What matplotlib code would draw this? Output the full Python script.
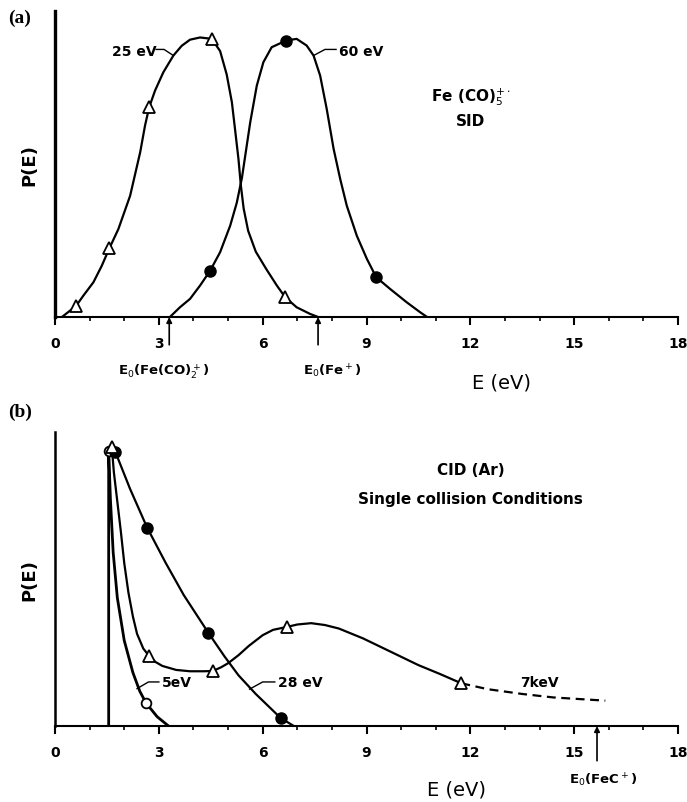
import matplotlib
matplotlib.use("Agg")
import matplotlib.pyplot as plt
import numpy as np

plt.rcParams["font.family"] = ["DejaVu Sans"]

# ---- (a) SID of Fe(CO)5+. : curves ----
sid25_curve_e = [0.2, 0.61, 0.82, 1.11, 1.35, 1.57, 1.83, 2.17, 2.46, 2.60, 2.72, 2.89, 3.13,
                 3.42, 3.66, 3.90, 4.19, 4.53, 4.77, 4.96, 5.11, 5.20, 5.30, 5.37, 5.45,
                 5.58, 5.80, 6.10, 6.41, 6.65, 6.98, 7.37, 7.6]
sid25_curve_p = [0.0, 0.04, 0.077, 0.125, 0.184, 0.247, 0.316, 0.436, 0.592, 0.688, 0.754,
                 0.814, 0.88, 0.94, 0.975, 0.997, 1.005, 1.0, 0.956, 0.872, 0.772, 0.676,
                 0.568, 0.472, 0.39, 0.31, 0.235, 0.173, 0.113, 0.071, 0.035, 0.011, 0.0]
sid25_pts_e = [0.61, 1.57, 2.72, 4.53, 6.65]
sid25_pts_p = [0.04, 0.247, 0.754, 1.0, 0.071]

sid60_curve_e = [3.32, 3.61, 3.90, 4.19, 4.48, 4.77, 5.06, 5.25, 5.40, 5.52, 5.64, 5.83,
                 6.02, 6.26, 6.68, 6.98, 7.27, 7.47, 7.66, 7.85, 8.05, 8.24, 8.43, 8.72,
                 9.01, 9.28, 9.68, 10.16, 10.55, 10.75]
sid60_curve_p = [0.0, 0.035, 0.065, 0.113, 0.166, 0.233, 0.328, 0.41, 0.50, 0.60, 0.70,
                 0.832, 0.916, 0.97, 0.994, 1.0, 0.976, 0.94, 0.868, 0.748, 0.604, 0.496,
                 0.40, 0.292, 0.209, 0.143, 0.101, 0.053, 0.017, 0.0]
sid60_pts_e = [4.48, 6.68, 9.28]
sid60_pts_p = [0.166, 0.994, 0.143]

sid_thresholds = [3.3, 7.6]
sid_threshold_labels = [r"E$_0$(Fe(CO)$_2^+$)", r"E$_0$(Fe$^+$)"]

# ---- (b) CID (Ar), single collision ----
cid5_curve_e = [1.55, 1.55, 1.60, 1.68, 1.80, 2.00, 2.25, 2.45, 2.63, 2.95, 3.28]
cid5_curve_p = [0.0, 1.03, 0.85, 0.65, 0.48, 0.32, 0.20, 0.13, 0.086, 0.035, 0.0]
cid5_pts_e = [1.55, 2.63]
cid5_pts_p = [1.03, 0.086]

cid28_curve_e = [1.74, 2.17, 2.66, 3.2, 3.72, 4.44, 4.9, 5.3, 5.8, 6.2, 6.52, 6.9]
cid28_curve_p = [1.027, 0.887, 0.743, 0.61, 0.49, 0.347, 0.26, 0.19, 0.12, 0.07, 0.03, 0.0]
cid28_pts_e = [1.74, 2.66, 4.42, 6.52]
cid28_pts_p = [1.027, 0.743, 0.347, 0.03]

cid7k_curve_e = [1.64, 1.70, 1.80, 1.90, 2.00, 2.12, 2.25, 2.37, 2.55, 2.72, 2.9, 3.1, 3.5,
                 3.9, 4.3, 4.56, 4.8, 5.0, 5.3, 5.6, 6.0, 6.3, 6.7, 7.0, 7.4, 7.8, 8.2,
                 8.9, 9.7, 10.5, 11.1, 11.74]
cid7k_curve_p = [1.045, 0.95, 0.84, 0.73, 0.61, 0.50, 0.41, 0.345, 0.29, 0.262, 0.24,
                 0.225, 0.21, 0.205, 0.205, 0.206, 0.22, 0.235, 0.265, 0.30, 0.34, 0.36,
                 0.371, 0.38, 0.385, 0.378, 0.365, 0.328, 0.278, 0.228, 0.196, 0.16]
cid7k_tail_e = [11.74, 12.5, 13.5, 14.4, 15.9]
cid7k_tail_p = [0.16, 0.138, 0.12, 0.107, 0.095]
cid7k_pts_e = [1.64, 2.72, 4.56, 6.7, 11.74]
cid7k_pts_p = [1.045, 0.262, 0.206, 0.371, 0.16]

cid_threshold = 15.66

x_ticks = [0, 3, 6, 9, 12, 15, 18]

fig = plt.figure(figsize=(6.87, 8.03), dpi=100)
ax_a = fig.add_axes([0.0801, 0.604, 0.9068, 0.381])
ax_b = fig.add_axes([0.0801, 0.0946, 0.9068, 0.366])

lw = 1.6
tick_font = dict(fontsize=10, fontweight="bold")


def style_axes(ax, left_width):
    ax.set_xlim(0, 18)
    ax.set_ylim(0, 1.1)
    ax.spines["top"].set_visible(False)
    ax.spines["right"].set_visible(False)
    ax.spines["left"].set_linewidth(left_width)
    ax.spines["bottom"].set_linewidth(1.5)
    ax.set_yticks([])
    ax.set_xticks(x_ticks)
    ax.set_xticks(np.arange(0, 19, 1), minor=True)
    ax.set_xticklabels([str(t) for t in x_ticks], **tick_font)
    ax.tick_params(axis="x", which="major", direction="out", length=6, width=1.5, pad=8)
    ax.tick_params(axis="x", which="minor", direction="out", length=3, width=1.2)
    ax.set_ylabel("P(E)", fontsize=13, fontweight="bold", labelpad=12)


style_axes(ax_a, 2.4)
style_axes(ax_b, 1.8)

# panel (a)
ax_a.plot(sid25_curve_e, sid25_curve_p, color="black", lw=lw, solid_joinstyle="round")
ax_a.plot(sid25_pts_e, sid25_pts_p, "^", ms=8, mfc="white", mec="black", mew=1.3)
ax_a.plot(sid60_curve_e, sid60_curve_p, color="black", lw=lw, solid_joinstyle="round")
ax_a.plot(sid60_pts_e, sid60_pts_p, "o", ms=8, color="black")

ax_a.text(1.65, 0.956, "25 eV", fontsize=10, fontweight="bold", va="center", ha="left")
ax_a.plot([2.92, 3.15, 3.42], [0.962, 0.962, 0.94], color="black", lw=1)
ax_a.text(8.2, 0.956, "60 eV", fontsize=10, fontweight="bold", va="center", ha="left")
ax_a.plot([7.47, 7.8, 8.12], [0.94, 0.962, 0.962], color="black", lw=1)

ax_a.text(12.0, 0.795, r"Fe (CO)$_5^{+\cdot}$", fontsize=11, fontweight="bold",
          ha="center", va="center")
ax_a.text(12.0, 0.705, "SID", fontsize=11, fontweight="bold", ha="center", va="center")

label_x = [3.15, 8.0]
for e0, lab, lx in zip(sid_thresholds, sid_threshold_labels, label_x):
    ax_a.annotate("", xy=(e0, 0.0), xytext=(e0, -0.1), annotation_clip=False,
                  arrowprops=dict(arrowstyle="-|>", color="black", lw=1.2,
                                  mutation_scale=8, shrinkA=0, shrinkB=0))
    ax_a.text(lx, -0.193, lab, fontsize=9.5, fontweight="bold", ha="center", va="center",
              clip_on=False)

ax_a.text(12.9, -0.234, "E (eV)", fontsize=14, ha="center", va="center", clip_on=False)

# panel (b)
ax_b.plot(cid5_curve_e, cid5_curve_p, color="black", lw=lw + 0.4, solid_joinstyle="round")
ax_b.plot(cid5_pts_e, cid5_pts_p, "o", ms=7, mfc="white", mec="black", mew=1.3)
ax_b.plot(cid28_curve_e, cid28_curve_p, color="black", lw=lw, solid_joinstyle="round")
ax_b.plot(cid28_pts_e, cid28_pts_p, "o", ms=8, color="black")
ax_b.plot(cid7k_curve_e, cid7k_curve_p, color="black", lw=lw, solid_joinstyle="round")
ax_b.plot(cid7k_tail_e, cid7k_tail_p, color="black", lw=lw, ls=(0, (4, 2.5)))
ax_b.plot(cid7k_pts_e, cid7k_pts_p, "^", ms=8, mfc="white", mec="black", mew=1.3)

ax_b.text(12.0, 0.961, "CID (Ar)", fontsize=11, fontweight="bold", ha="center", va="center")
ax_b.text(12.0, 0.853, "Single collision Conditions", fontsize=11, fontweight="bold",
          ha="center", va="center")

ax_b.text(3.1, 0.165, "5eV", fontsize=10, fontweight="bold", ha="left", va="center")
ax_b.plot([2.37, 2.7, 3.0], [0.14, 0.165, 0.165], color="black", lw=1)
ax_b.text(6.45, 0.165, "28 eV", fontsize=10, fontweight="bold", ha="left", va="center")
ax_b.plot([5.62, 6.0, 6.35], [0.138, 0.165, 0.165], color="black", lw=1)
ax_b.text(13.45, 0.165, "7keV", fontsize=10, fontweight="bold", ha="left", va="center")

ax_b.annotate("", xy=(cid_threshold, 0.0), xytext=(cid_threshold, -0.13), annotation_clip=False,
              arrowprops=dict(arrowstyle="-|>", color="black", lw=1.2,
                              mutation_scale=8, shrinkA=0, shrinkB=0))
ax_b.text(15.84, -0.198, r"E$_0$(FeC$^+$)", fontsize=9.5, fontweight="bold",
          ha="center", va="center", clip_on=False)
ax_b.text(11.6, -0.236, "E (eV)", fontsize=14, ha="center", va="center", clip_on=False)

fig.text(0.012, 1 - 18 / 803, "(a)", family="Liberation Serif", fontsize=14,
         fontweight="bold", va="center")
fig.text(0.012, 1 - 412 / 803, "(b)", family="Liberation Serif", fontsize=14,
         fontweight="bold", va="center")

fig.savefig("out.png", dpi=100)
